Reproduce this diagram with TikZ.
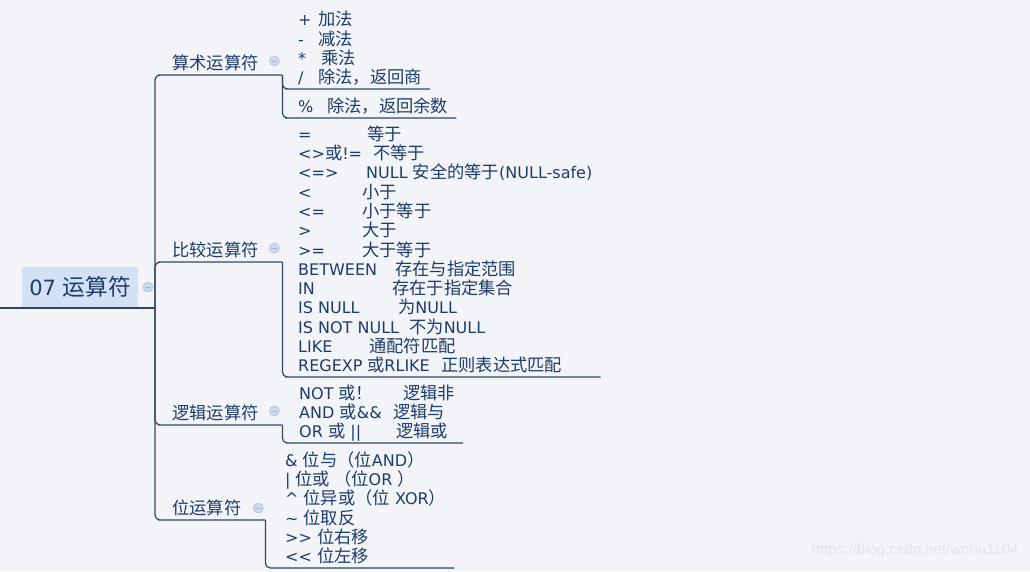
\documentclass[tikz,border=0pt]{standalone}
\usepackage{fontspec}
\setmainfont{DejaVu Sans}
\newfontfamily\zhfont[Scale=1.08]{Noto Sans CJK SC}
\newfontfamily\markfont{Liberation Sans}
\newcommand{\zh}[1]{{\zhfont #1}}
\definecolor{bgcol}{HTML}{F2F4F8}
\definecolor{linecol}{HTML}{2F4766}
\definecolor{textcol}{HTML}{1D3C6B}
\definecolor{rootfill}{HTML}{D3E0F6}
\definecolor{minusfill}{HTML}{CCD8EC}
\definecolor{minusdraw}{HTML}{A3B6D3}
\definecolor{markcol}{HTML}{E1E4EA}

\begin{document}
\begin{tikzpicture}[x=1pt, y=-1pt,
    link/.style={draw=linecol, line width=1.2pt, rounded corners=5pt},
    topic/.style={text=textcol, font=\fontsize{16}{19.3}\selectfont, align=left,
        anchor=south west, inner ysep=2pt, text depth=3pt},
    branch/.style={topic, inner xsep=9pt},
    leaf/.style={topic, inner xsep=8pt},
    root/.style={fill=rootfill, text=textcol, inner sep=0pt, minimum width=116pt,
        minimum height=40pt, font=\fontsize{21}{25}\selectfont},
    minus/.style={circle, draw=minusdraw, fill=minusfill, inner sep=0pt, minimum size=10pt,
        path picture={\draw[minusdraw, line width=0.8pt]
            ([xshift=-2.5pt]path picture bounding box.center) --
            ([xshift=2.5pt]path picture bounding box.center);}}]
        \fill[bgcol] (0,0) rectangle (1030,571);
        \useasboundingbox (0,0) rectangle (1030,571);
        % The central topic.
            \node[root] (root) at (80,287) {07 \zh{运算符}};
            \node[minus] (rootM) at (148,287) {};
            \coordinate (rootL) at (0,308);
            \coordinate (hub) at (155,308);
        % Below nodes are the four branches.
            \node[branch, text width=101pt] (arith) at (163,75) {\zh{算术运算符}};
            \node[branch, text width=101pt] (comp) at (163,262) {\zh{比较运算符}};
            \node[branch, text width=101pt] (logic) at (163,425) {\zh{逻辑运算符}};
            \node[branch, text width=84pt] (bit) at (163,520) {\zh{位运算符}};
            \node[minus] (arithM) at ([xshift=-8pt,yshift=14pt]arith.south east) {};
            \node[minus] (compM) at ([xshift=-8pt,yshift=14pt]comp.south east) {};
            \node[minus] (logicM) at ([xshift=-8pt,yshift=14pt]logic.south east) {};
            \node[minus] (bitM) at ([xshift=-7pt,yshift=12pt]bit.south east) {};
        % Below nodes are the leaves.
            \node[leaf] (arithA) at (290,89) {\makebox[20pt][l]{+}\zh{加法}\\
                \makebox[20pt][l]{-}\zh{减法}\\
                \makebox[23pt][l]{*}\zh{乘法}\\
                \makebox[20pt][l]{/}\zh{除法，返回商}};
            \node[leaf] (arithB) at (290,118) {\makebox[29pt][l]{\%}\zh{除法，返回余数}};
            \node[leaf] (compA) at (290,377) {\makebox[69pt][l]{=}\zh{等于}\\
                \makebox[75pt][l]{<>\zh{或}!=}\zh{不等于}\\
                \makebox[68pt][l]{<=>}NULL \zh{安全的等于}(NULL-safe)\\
                \makebox[64pt][l]{<}\zh{小于}\\
                \makebox[64pt][l]{<=}\zh{小于等于}\\
                \makebox[64pt][l]{>}\zh{大于}\\
                \makebox[64pt][l]{>=}\zh{大于等于}\\
                \makebox[97pt][l]{BETWEEN}\zh{存在与指定范围}\\
                \makebox[94pt][l]{IN}\zh{存在于指定集合}\\
                \makebox[100pt][l]{IS NULL}\zh{为}NULL\\
                \makebox[111pt][l]{IS NOT NULL}\zh{不为}NULL\\
                \makebox[71pt][l]{LIKE}\zh{通配符匹配}\\
                \makebox[143pt][l]{\makebox[69pt][l]{REGEXP}\zh{或}RLIKE}\zh{正则表达式匹配}};
            \node[leaf] (logicA) at (291,443) {\makebox[104pt][l]{NOT \zh{或！}}\zh{逻辑非}\\
                \makebox[94pt][l]{AND \zh{或}\&\&}\zh{逻辑与}\\
                \makebox[97pt][l]{OR \zh{或} ||}\zh{逻辑或}};
            \node[leaf] (bitA) at (277,568) {\& \zh{位与（位}AND\zh{）}\\
                | \zh{位或 （位}OR \zh{）}\\
                \textasciicircum{} \zh{位异或（位} XOR\zh{）}\\
                \textasciitilde{} \zh{位取反}\\
                >{}> \zh{位右移}\\
                <{}< \zh{位左移}};
        % This draws the connectors and underlines.
            \draw[link] (rootL) -- (hub);
            \draw[link] (hub) |- (arith.south west) -- (arith.south east);
            \draw[link] (hub) |- (comp.south west) -- (comp.south east);
            \draw[link] (hub) |- (logic.south west) -- (logic.south east);
            \draw[link] (hub) |- (bit.south west) -- (bit.south east);
            \draw[link] (arith.south east) |- (arithA.south west) -- (arithA.south east);
            \draw[link] (arith.south east) |- (arithB.south west) -- (arithB.south east);
            \draw[link] (comp.south east) |- (compA.south west) -- (compA.south east);
            \draw[link] (logic.south east) |- (logicA.south west) -- (logicA.south east);
            \draw[link] (bit.south east) |- (bitA.south west) -- (bitA.south east);
        % Watermark.
            \node[text=markcol, font=\markfont\fontsize{15}{18}\selectfont, anchor=east] (mark) at (1022,551) {https://blog.csdn.net/wohu1104};
    \end{tikzpicture}
\end{document}
